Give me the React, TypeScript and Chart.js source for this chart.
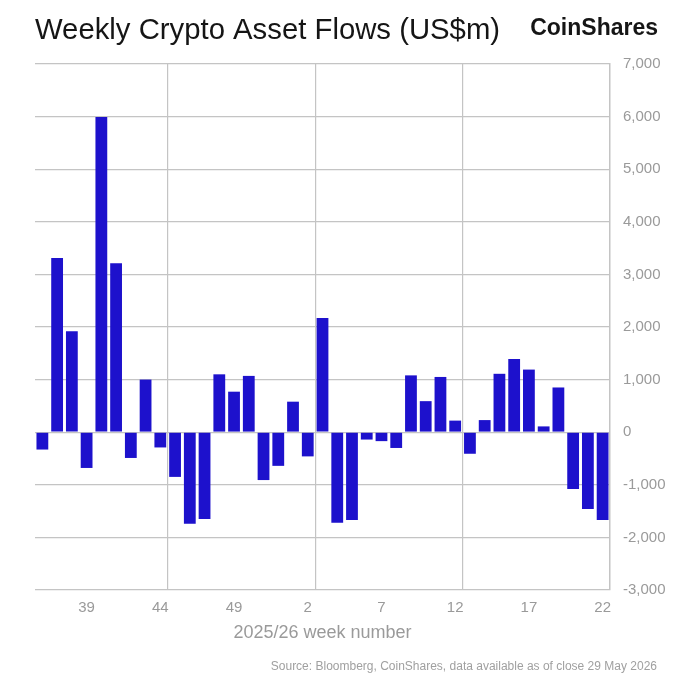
import React, { useEffect, useRef } from "react";
import { Chart, registerables } from "chart.js";

Chart.register(...registerables);

const weekLabels: string[] = [
  "36", "37", "38", "39", "40", "41", "42", "43", "44", "45", "46", "47", "48", "49", "50", "51", "52",
  "1", "2", "3", "4", "5", "6", "7", "8", "9", "10", "11", "12", "13", "14", "15", "16", "17", "18", "19", "20", "21", "22",
];

const flowValues: number[] = [
  -330, 3310, 1920, -680, 5990, 3210, -490, 1000, -290, -850, -1740, -1650, 1100, 770, 1070, -910, -640,
  580, -460, 2170, -1720, -1670, -140, -170, -300, 1080, 590, 1050, 220, -410, 230, 1110, 1390, 1190, 110, 850, -1080, -1460, -1670,
];

const titleText = "Weekly Crypto Asset Flows (US$m)";
const brandText = "CoinShares";
const xAxisTitle = "2025/26 week number";
const sourceText = "Source: Bloomberg, CoinShares, data available as of close 29 May 2026";

const FONT = "'Liberation Sans', Arial, Helvetica, sans-serif";
const GRID = "#c4c4c4";
const TICK = "#9a9a9a";

const textPlugin = {
  id: "brandAndSource",
  afterDraw(chart: any) {
    const ctx = chart.ctx;
    ctx.save();
    ctx.font = `bold 23px ${FONT}`;
    ctx.fillStyle = "#151515";
    ctx.textAlign = "right";
    ctx.textBaseline = "alphabetic";
    ctx.fillText(brandText, 658, 34.5);
    ctx.font = `12px ${FONT}`;
    ctx.fillStyle = "#a0a0a0";
    ctx.textBaseline = "middle";
    ctx.fillText(sourceText, 657, 666.5);
    ctx.restore();
  },
};

export default function App() {
  const canvasRef = useRef<HTMLCanvasElement | null>(null);

  useEffect(() => {
    if (!canvasRef.current) return;
    const chart = new Chart(canvasRef.current, {
      type: "bar",
      data: {
        labels: weekLabels,
        datasets: [
          {
            data: flowValues,
            backgroundColor: "#1d11cc",
            borderWidth: 0,
            barPercentage: 0.8,
            categoryPercentage: 1,
          },
        ],
      },
      plugins: [textPlugin],
      options: {
        animation: false,
        responsive: true,
        maintainAspectRatio: false,
        layout: { padding: { left: 35, right: 0, top: 0, bottom: 0 } },
        plugins: {
          legend: { display: false },
          tooltip: { enabled: false },
          title: {
            display: true,
            text: titleText,
            align: "start",
            color: "#151515",
            font: { family: FONT, size: 29.3, weight: "normal", lineHeight: 1.2 },
            padding: { top: 13.1, bottom: 15.7 },
          },
        },
        scales: {
          x: {
            grid: {
              offset: true,
              drawTicks: false,
              lineWidth: 1.2,
              color: (ctx: any) => (ctx.index % 10 === 9 ? GRID : "rgba(0,0,0,0)"),
            },
            border: { display: false },
            ticks: {
              autoSkip: false,
              maxRotation: 0,
              minRotation: 0,
              padding: 9,
              color: TICK,
              font: { family: FONT, size: 15 },
              callback: (_v: any, i: number) => (i % 5 === 3 ? weekLabels[i] : ""),
            },
            title: {
              display: true,
              text: xAxisTitle,
              color: TICK,
              font: { family: FONT, size: 18 },
              padding: { top: 0, bottom: 33.2 },
            },
            afterFit: (scale: any) => {
              scale.height = 87;
            },
          },
          y: {
            position: "right",
            min: -3000,
            max: 7000,
            grid: { drawTicks: false, color: GRID, lineWidth: 1.2 },
            border: { display: true, color: GRID, width: 1.5 },
            ticks: {
              stepSize: 1000,
              padding: 13,
              color: TICK,
              font: { family: FONT, size: 15 },
              callback: (v: any) => Number(v).toLocaleString("en-US"),
            },
            afterFit: (scale: any) => {
              scale.width = 71;
            },
          },
        },
      },
    } as any);
    return () => chart.destroy();
  }, []);

  return (
    <div style={{ position: "fixed", left: 0, top: 0, width: 681, height: 677, background: "#fff" }}>
      <canvas ref={canvasRef} />
    </div>
  );
}
